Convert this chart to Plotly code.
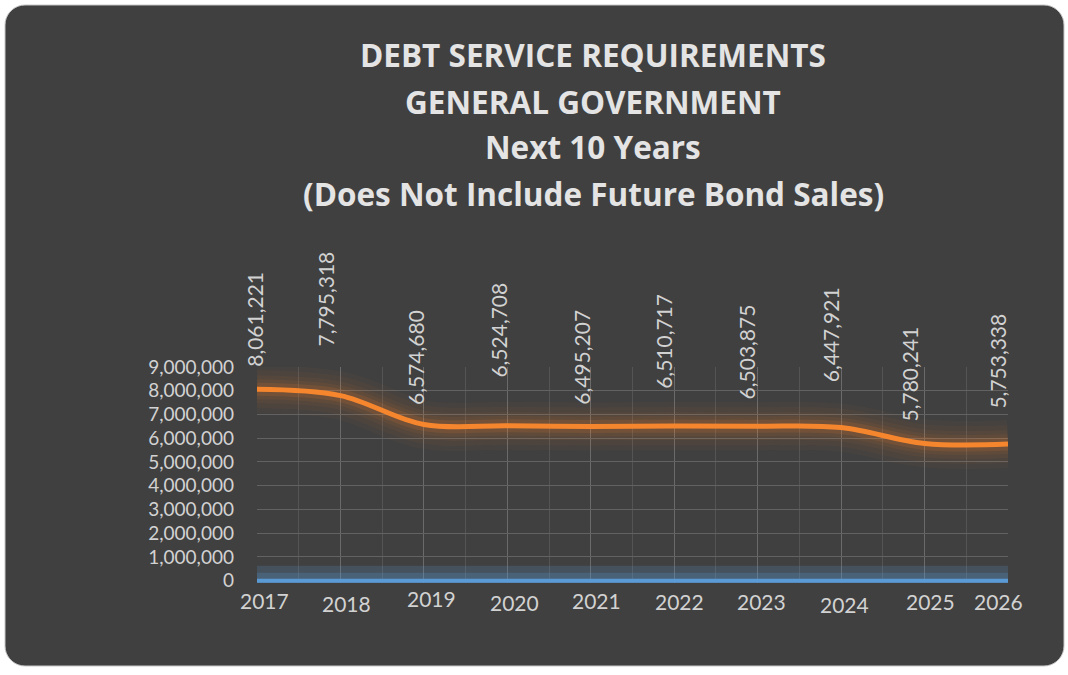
import math
import plotly.graph_objects as go

# ---- data -------------------------------------------------------------
years = [2017, 2018, 2019, 2020, 2021, 2022, 2023, 2024, 2025, 2026]
debt_service = [8061221, 7795318, 6574680, 6524708, 6495207,
                6510717, 6503875, 6447921, 5780241, 5753338]
baseline = [0, 0, 0, 0, 0, 0, 0, 0, 0, 0]
y_ticks = [0, 1000000, 2000000, 3000000, 4000000, 5000000,
           6000000, 7000000, 8000000, 9000000]
title_lines = ["DEBT SERVICE REQUIREMENTS", "GENERAL GOVERNMENT",
               "Next 10 Years", "(Does Not Include Future Bond Sales)"]

# ---- layout geometry (pixels) ------------------------------------------
W, H = 1068, 675
L, R, T, B = 257, 60, 367, 92
PW, PH = W - L - R, H - T - B

# per-label placement of the rotated value labels (px)
label_dx = [-2, -15, -9, -9, -9, -11, -11, -11, -15, -10]
label_lift = [20, 47, 18, 46, 20, 35, 25, 43, 20, 33]
# per-label placement of the year labels (px)
year_dx = [7, 6, 8, 7, 6, 5, 4, 3, 6, -10]
year_cy = [600, 603, 598, 602, 600, 601, 601, 604, 601, 601]
title_cy = [56, 102, 148, 194]

TITLE_FONT = "Open Sans"
FONT = "Lato"
BG = "#404040"
TXT = "#d2d2d2"
ORANGE = "#f5862e"
BLUE = "#5b9bd5"


def xp(px):
    return (px - L) / PW


def yp(py):
    return (H - B - py) / PH


fig = go.Figure()

# soft glow under the series lines
for w, a in [(48, 0.035), (38, 0.04), (28, 0.05), (20, 0.07), (13, 0.12)]:
    fig.add_trace(go.Scatter(
        x=years, y=debt_service, mode="lines",
        line=dict(color=f"rgba(245,134,46,{a})", width=w,
                  shape="spline", smoothing=1.0),
        hoverinfo="skip", showlegend=False))
for w, a in [(30, 0.20), (16, 0.22)]:
    fig.add_trace(go.Scatter(
        x=years, y=baseline, mode="lines",
        line=dict(color=f"rgba(91,155,213,{a})", width=w),
        hoverinfo="skip", showlegend=False))

fig.add_trace(go.Scatter(
    x=years, y=baseline, mode="lines",
    line=dict(color=BLUE, width=4), showlegend=False))
fig.add_trace(go.Scatter(
    x=years, y=debt_service, mode="lines",
    line=dict(color=ORANGE, width=5, shape="spline", smoothing=1.0),
    showlegend=False))

annotations = []
# value labels, rotated
for yr, v, dx, lift in zip(years, debt_service, label_dx, label_lift):
    annotations.append(dict(
        x=yr, y=v, xref="x", yref="y", text=f"{v:,}", textangle=-90,
        showarrow=False, xanchor="center", yanchor="bottom",
        xshift=dx, yshift=lift,
        font=dict(family=FONT, size=21, color=TXT)))
# year labels
for yr, dx, cy in zip(years, year_dx, year_cy):
    annotations.append(dict(
        x=yr, y=yp(cy), xref="x", yref="paper", text=str(yr),
        showarrow=False, xanchor="center", yanchor="middle", xshift=dx,
        font=dict(family=FONT, size=21, color=TXT)))
# title
for line, cy in zip(title_lines, title_cy):
    annotations.append(dict(
        x=xp(593), y=yp(cy - 1), xref="paper", yref="paper",
        text=f"<b>{line}</b>",
        showarrow=False, xanchor="center", yanchor="middle",
        font=dict(family=TITLE_FONT, size=31.5, color="#e4e4e4")))

# rounded dark panel behind the chart
x0, y0, x1, y1, rad = 5, 5, 1064, 666, 20
pts = []
for cx, cy, a0 in [(x1 - rad, y0 + rad, -90), (x1 - rad, y1 - rad, 0),
                   (x0 + rad, y1 - rad, 90), (x0 + rad, y0 + rad, 180)]:
    for k in range(0, 91, 10):
        a = math.radians(a0 + k)
        pts.append((cx + rad * math.cos(a), cy + rad * math.sin(a)))
path = "M " + " L ".join(f"{xp(px):.5f},{yp(py):.5f}" for px, py in pts) + " Z"

fig.update_layout(
    width=W, height=H,
    margin=dict(l=L, r=R, t=T, b=B, pad=0),
    paper_bgcolor="white",
    plot_bgcolor="rgba(0,0,0,0)",
    showlegend=False,
    annotations=annotations,
    shapes=[dict(type="path", path=path, xref="paper", yref="paper",
                 fillcolor=BG, line=dict(color="#c8c8c8", width=1),
                 layer="below")],
    xaxis=dict(range=[2017, 2026], tickvals=years, showticklabels=False,
               showgrid=True, gridcolor="#6a6a6a", gridwidth=1,
               zeroline=False, showline=False, fixedrange=True,
               minor=dict(tick0=2017.5, dtick=1, showgrid=True,
                          gridcolor="#545454", gridwidth=1)),
    yaxis=dict(range=[-100000, 9000000], tickvals=y_ticks,
               ticktext=[f"{t:,}" for t in y_ticks],
               showgrid=True, gridcolor="#626262", gridwidth=1,
               zeroline=False, showline=False, fixedrange=True,
               ticks="", ticklabelstandoff=22,
               tickfont=dict(family=FONT, size=19, color=TXT)),
)

fig.write_html("out.html")
